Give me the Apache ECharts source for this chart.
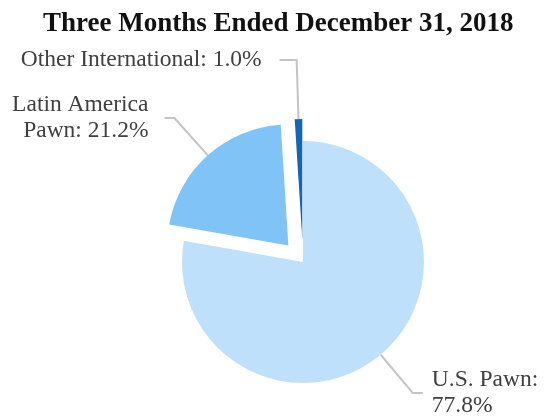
<!DOCTYPE html>
<html>
<head>
<meta charset="utf-8">
<script src="https://cdn.jsdelivr.net/npm/echarts@6/dist/echarts.min.js"></script>
<style>html,body{margin:0;padding:0;background:#fff}#c{width:550px;height:416px}</style>
</head>
<body>
<div id="c"></div>
<script>
const titleText = 'Three Months Ended December 31, 2018';
const categories = ['U.S. Pawn', 'Latin America\nPawn', 'Other International'];
const values = [77.8, 21.2, 1.0];
const exploded = [false, true, true];
const colors = ['#bfe0fa', '#80c3f7', '#1565b5'];

const lineSpecs = [
  { length: 50, length2: 10, dist: 9 },
  { length: 50, length2: 10, dist: 16 },
  { length: 59, length2: 17, dist: 18 }
];

const chart = echarts.init(document.getElementById('c'), null, { renderer: 'canvas' });
const data = categories.map((name, i) => ({
  name: name,
  value: values[i],
  selected: exploded[i],
  itemStyle: { color: colors[i] },
  label: {
    distanceToLabelLine: lineSpecs[i].dist,
    formatter: i === 0
      ? (p => p.name + ':\n' + p.value.toFixed(1) + '%')
      : (p => p.name + ': ' + p.value.toFixed(1) + '%')
  },
  labelLine: { length: lineSpecs[i].length, length2: lineSpecs[i].length2 }
}));

chart.setOption({
  animation: false,
  title: {
    text: titleText,
    left: 38,
    top: 6,
    textStyle: { fontFamily: 'Liberation Serif', fontWeight: 'bold', fontSize: 27, color: '#111' }
  },
  series: [{
    type: 'pie',
    center: [303, 262],
    radius: 121,
    startAngle: 90,
    clockwise: true,
    selectedMode: 'multiple',
    selectedOffset: 22,
    avoidLabelOverlap: false,
    data: data,
    label: {
      show: true,
      fontFamily: 'Liberation Serif',
      fontSize: 23.5,
      lineHeight: 26,
      color: '#404040'
    },
    labelLine: { show: true, lineStyle: { color: '#c4c4c4', width: 2 } },
    emphasis: { disabled: true }
  }]
});
</script>
</body>
</html>
